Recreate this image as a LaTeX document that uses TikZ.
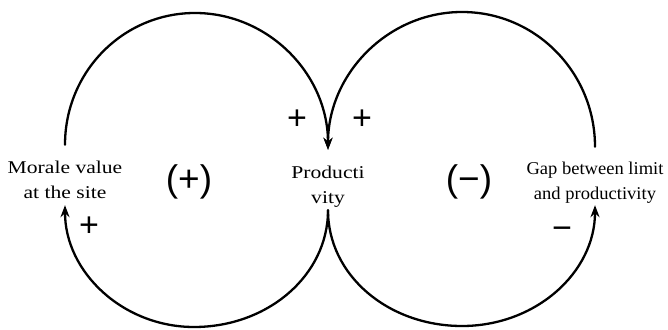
\documentclass[tikz,border=0pt]{standalone}
\usepackage{fontspec}
\setmainfont{Liberation Serif}
\newfontfamily\varfont[FakeStretch=1.2]{Liberation Serif}
\newfontfamily\gapfont[FakeStretch=1.03]{Liberation Serif}
\newfontfamily\signfont{Liberation Sans}
\usetikzlibrary{arrows.meta}
\begin{document}
\begin{tikzpicture}[x=1pt,y=1pt,
  var/.style={font=\varfont\fontsize{18}{25}\selectfont, align=center, inner sep=0pt, minimum height=60pt},
  link/.style={line width=2.3pt, line cap=round, -{Stealth[length=12pt,width=9pt]}},
  sign/.style={font=\signfont\fontsize{34}{34}\selectfont, inner sep=0pt},
  loopsign/.style={font=\signfont\fontsize{37}{37}\selectfont, inner sep=0pt}]
\useasboundingbox (0,0) rectangle (668,329);
% variables
\node[var] (morale) at (65,154) {\rule{0pt}{23pt}Morale value\\at the site};
\node[var] (prod) at (328,149) {\rule{0pt}{26pt}Producti\\vity};
\node[var, font=\gapfont\fontsize{18}{25}\selectfont, minimum height=58pt] (gap) at (595,153) {\rule{0pt}{26pt}Gap between limit\\and productivity};
% extreme points of the loops
\coordinate (ltop) at (195,316);
\coordinate (lbot) at (194,2);
\coordinate (rtop) at (462,317);
\coordinate (rbot) at (462,3);
% left loop
\draw[link] (morale.north) .. controls +(0,73) and +(-72,0) .. (ltop)
  .. controls +(73,0) and +(0,76) .. (prod.north);
\draw[link] (prod.south) .. controls +(0,-65) and +(74,0) .. (lbot)
  .. controls +(-71,0) and +(0,-67) .. (morale.south);
% right loop
\draw[link] (gap.north) .. controls +(0,74) and +(74,0) .. (rtop)
  .. controls +(-74,0) and +(0,76) .. (prod.north);
\draw[link] (prod.south) .. controls +(0,-65) and +(-74,0) .. (rbot)
  .. controls +(74,0) and +(0,-67) .. (gap.south);
% polarity signs
\node[sign] (p1) at (297,209) {+};
\node[sign] (p2) at (362,209) {+};
\node[sign] (p3) at (89,102) {+};
\node[sign] (m1) at (562,96) {−};
% loop signs
\node[loopsign] (lp) at (189,147) {(+)};
\node[loopsign] (ln) at (469,147) {(−)};
\end{tikzpicture}
\end{document}
